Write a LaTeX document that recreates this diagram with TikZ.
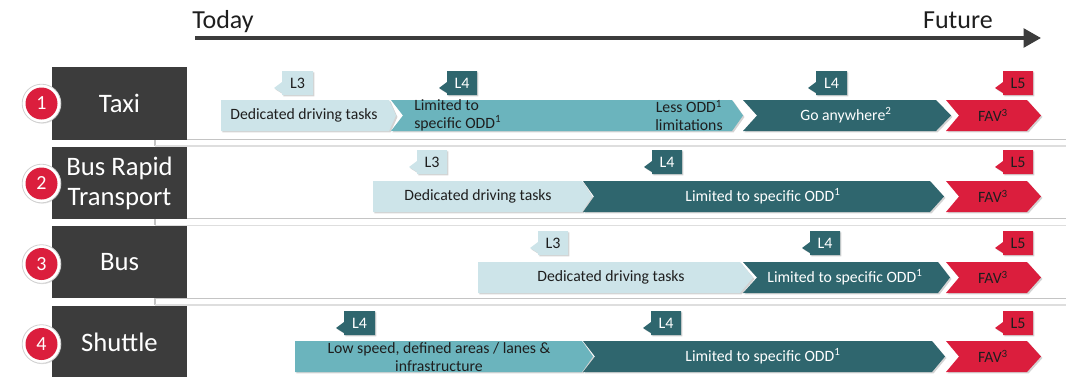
\documentclass[tikz,border=0pt]{standalone}
\usepackage{fontspec}
\setmainfont{Carlito}
\usetikzlibrary{shadows,arrows.meta}

\definecolor{chlight}{RGB}{205,228,233}
\definecolor{chmid}{RGB}{107,180,189}
\definecolor{chdark}{RGB}{47,102,110}
\definecolor{chred}{RGB}{219,30,61}
\definecolor{boxgray}{RGB}{60,60,60}
\definecolor{txtdark}{RGB}{30,30,30}
\definecolor{sepdark}{RGB}{196,196,196}
\definecolor{seplight}{RGB}{222,222,222}

\tikzset{
  shade/.style={drop shadow={shadow xshift=1.1pt,shadow yshift=-1.1pt,opacity=0.35}},
  lightfill/.style={shade,fill=chlight},
  midfill/.style={shade,fill=chmid},
  darkfill/.style={shade,fill=chdark},
  redfill/.style={shade,fill=chred},
  chevtext/.style={font=\fontsize{11.8}{13.5}\selectfont,text=txtdark,inner sep=0pt,align=center},
  chevwhite/.style={chevtext,text=white},
  tagtext/.style={font=\fontsize{12}{14}\selectfont,text=txtdark,inner sep=0pt},
  tagwhite/.style={tagtext,text=white},
  rowbox/.style={fill=boxgray,text=white,minimum width=101.25pt,minimum height=54.5pt,
    inner sep=0pt,align=center,font=\fontsize{20}{22.5}\selectfont},
  ringout/.style={circle,fill=white,draw=black!18,line width=0.6pt,minimum size=29pt,inner sep=0pt,
    drop shadow={shadow xshift=0.6pt,shadow yshift=-0.6pt,opacity=0.25}},
  ringin/.style={circle,fill=chred,minimum size=24pt,inner sep=0pt,text=white,
    font=\fontsize{15}{16}\selectfont},
  timetext/.style={font=\fontsize{19.5}{22}\selectfont,text=txtdark,inner sep=0pt},
}

% chevron: style, left x, notch x, flat-end x, tip x, top y, bottom y
\newcommand{\chevshape}[7]{%
  \path[#1] (#2,#6) -- (#4,#6) -- (#5,{(#6+#7)/2}) -- (#4,#7) -- (#2,#7) -- (#3,{(#6+#7)/2}) -- cycle;}
% level tag with a small pointer: style, left x, right x, top y
\newcommand{\tagshape}[4]{%
  \path[#1] (#2,#4) -- (#3,#4) -- (#3,#4+24) -- (#2,#4+24) -- (#2,#4+22) -- (#2-8,#4+17) -- (#2,#4+11) -- cycle;}

\begin{document}
\begin{tikzpicture}[x=0.75pt,y=-0.75pt]
\useasboundingbox (0,0) rectangle (1066,376);
\clip (0,0) rectangle (1066,376);

% time axis
\coordinate (tlstart) at (195,38);
\coordinate (tlend) at (1041,38);
\draw[line width=2.5pt,draw=boxgray,-{Triangle[length=13pt,width=14pt]}] (tlstart) -- (tlend);
\node[timetext,anchor=base west] (today) at (192,28) {Today};
\node[timetext,anchor=base east] (future) at (993,28) {Future};

% row separators
\foreach \ya/\yb in {139.5/146, 218.7/225.3, 298.3/305}{
  \draw[sepdark,line width=0.8pt] (1066,\ya) -- (155,\ya) -- (155,\yb);
  \draw[seplight,line width=0.8pt] (155,\yb) -- (1066,\yb);
}

% row headers
\node[rowbox] (taxi) at (119.5,103.5) {Taxi};
\node[rowbox] (brt) at (119.5,183) {Bus Rapid\\Transport};
\node[rowbox] (bus) at (119.5,262) {Bus};
\node[rowbox] (shuttle) at (119.5,342.5) {Shuttle};

\node[ringout] (o1) at (41.5,103.5) {};
\node[ringin] (n1) at (41.5,103.5) {1};
\node[ringout] (o2) at (41.5,183.5) {};
\node[ringin] (n2) at (41.5,183.5) {2};
\node[ringout] (o3) at (41.5,264) {};
\node[ringin] (n3) at (41.5,264) {3};
\node[ringout] (o4) at (41.5,344) {};
\node[ringin] (n4) at (41.5,344) {4};

% row 1: taxi
\chevshape{lightfill}{221}{221}{389}{396}{100}{131}
\chevshape{midfill}{391}{403}{732}{743}{100}{131}
\chevshape{darkfill}{743}{757}{936}{951}{100}{131}
\chevshape{redfill}{946}{959}{1027}{1041}{100}{131}
\node[chevtext] (t1a) at (304,115.5) {Dedicated driving tasks};
\node[chevtext,anchor=west,align=left] (t1b) at (414,115.5) {Limited to\\specific ODD\textsuperscript{1}};
\node[chevtext] (t1c) at (689,115.5) {Less ODD\textsuperscript{1}\\limitations};
\node[chevwhite] (t1d) at (846,115.5) {Go anywhere\textsuperscript{2}};
\node[chevtext] (t1e) at (993,115.5) {FAV\textsuperscript{3}};
\tagshape{lightfill}{282}{313}{71}
\node[tagtext] (g1a) at (297.5,83) {L3};
\tagshape{darkfill}{447}{477}{71}
\node[tagwhite] (g1b) at (462,83) {L4};
\tagshape{darkfill}{816}{847}{71}
\node[tagwhite] (g1c) at (831.5,83) {L4};
\tagshape{redfill}{1003}{1033}{71}
\node[tagtext] (g1d) at (1018,83) {L5};

% row 2: bus rapid transport
\chevshape{lightfill}{373}{373}{582}{592}{181}{212}
\chevshape{darkfill}{583}{594}{930}{944}{181}{212}
\chevshape{redfill}{946}{959}{1027}{1041}{181}{212}
\node[chevtext] (t2a) at (478,196.5) {Dedicated driving tasks};
\node[chevwhite] (t2b) at (763,196.5) {Limited to specific ODD\textsuperscript{1}};
\node[chevtext] (t2c) at (993,196.5) {FAV\textsuperscript{3}};
\tagshape{lightfill}{417}{447}{150}
\node[tagtext] (g2a) at (432,162) {L3};
\tagshape{darkfill}{652}{682}{150}
\node[tagwhite] (g2b) at (667,162) {L4};
\tagshape{redfill}{1003}{1033}{150}
\node[tagtext] (g2c) at (1018,162) {L5};

% row 3: bus
\chevshape{lightfill}{478}{478}{740}{753}{262}{293}
\chevshape{darkfill}{743}{757}{938}{950}{262}{293}
\chevshape{redfill}{946}{959}{1027}{1041}{262}{293}
\node[chevtext] (t3a) at (611,277.5) {Dedicated driving tasks};
\node[chevwhite] (t3b) at (845,277.5) {Limited to specific ODD\textsuperscript{1}};
\node[chevtext] (t3c) at (993,277.5) {FAV\textsuperscript{3}};
\tagshape{lightfill}{538}{568}{231}
\node[tagtext] (g3a) at (553,243) {L3};
\tagshape{darkfill}{810}{840}{231}
\node[tagwhite] (g3b) at (825,243) {L4};
\tagshape{redfill}{1003}{1033}{231}
\node[tagtext] (g3c) at (1018,243) {L5};

% row 4: shuttle
\chevshape{midfill}{295}{295}{582}{593}{341}{372}
\chevshape{darkfill}{583}{595}{932}{945}{341}{372}
\chevshape{redfill}{946}{959}{1027}{1041}{341}{372}
\node[chevtext] (t4a) at (439,357.5) {Low speed, defined areas / lanes \&\\infrastructure};
\node[chevwhite] (t4b) at (763,356.5) {Limited to specific ODD\textsuperscript{1}};
\node[chevtext] (t4c) at (993,356.5) {FAV\textsuperscript{3}};
\tagshape{darkfill}{344}{375}{311}
\node[tagwhite] (g4a) at (359.5,323) {L4};
\tagshape{darkfill}{651}{681}{311}
\node[tagwhite] (g4b) at (666,323) {L4};
\tagshape{redfill}{1003}{1033}{311}
\node[tagtext] (g4c) at (1018,323) {L5};
\end{tikzpicture}
\end{document}
